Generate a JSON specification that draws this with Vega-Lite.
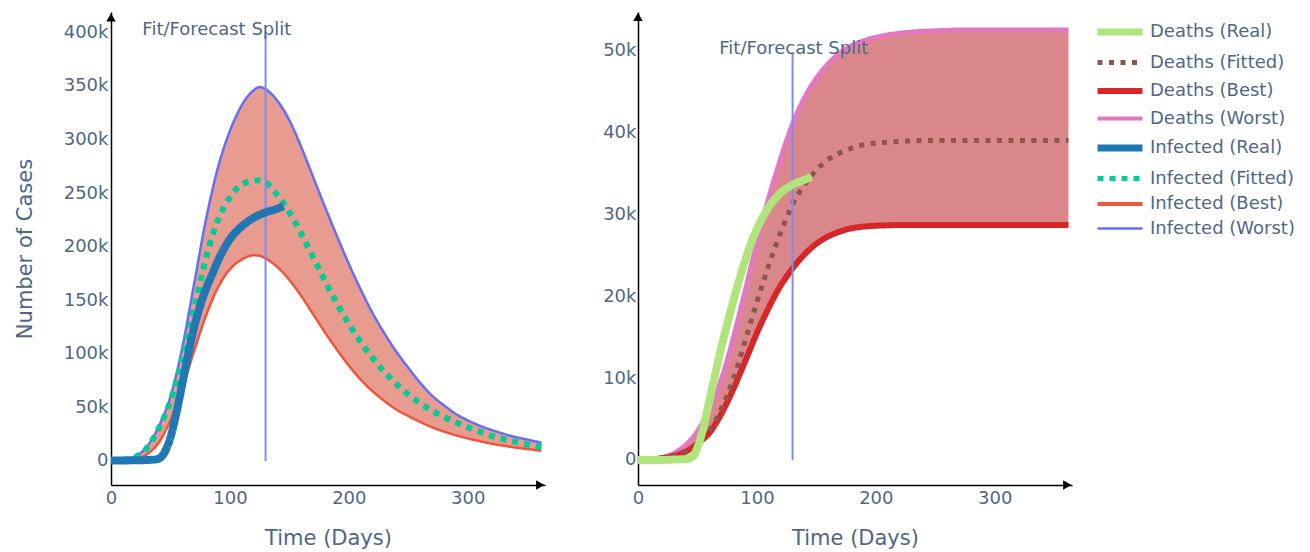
{
  "$schema": "https://vega.github.io/schema/vega-lite/v6.json",
  "background": "white",
  "padding": {"left": 14, "top": 12, "right": 5, "bottom": 5},
  "spacing": 93,
  "bounds": "flush",
  "config": {
    "font": "DejaVu Sans",
    "view": {"stroke": null},
    "axis": {"grid": false, "ticks": false, "domainColor": "#000000", "domainWidth": 1.5, "labelColor": "#506784", "labelFontSize": 18, "titleColor": "#506784", "titleFontSize": 21, "titleFontWeight": "normal", "labelFlush": false},
    "legend": {"symbolType": "M-2,0H2", "symbolSize": 506, "labelFontSize": 18, "labelColor": "#506784", "labelOffset": 21, "rowPadding": 6.5, "orient": "none", "legendX": 1000, "legendY": 11, "labelLimit": 300}
  },
  "datasets": {
    "inf": [
      {"day":0,"series":"Infected (Worst)","value":300},{"day":10,"series":"Infected (Worst)","value":1000},{"day":20,"series":"Infected (Worst)","value":4000},{"day":30,"series":"Infected (Worst)","value":13000},{"day":40,"series":"Infected (Worst)","value":32000},{"day":50,"series":"Infected (Worst)","value":60000},{"day":60,"series":"Infected (Worst)","value":106000},{"day":70,"series":"Infected (Worst)","value":166000},{"day":80,"series":"Infected (Worst)","value":226000},{"day":90,"series":"Infected (Worst)","value":274000},{"day":100,"series":"Infected (Worst)","value":308000},{"day":110,"series":"Infected (Worst)","value":332000},{"day":120,"series":"Infected (Worst)","value":346000},{"day":125,"series":"Infected (Worst)","value":349000},{"day":130,"series":"Infected (Worst)","value":347000},{"day":140,"series":"Infected (Worst)","value":336000},{"day":150,"series":"Infected (Worst)","value":318000},{"day":160,"series":"Infected (Worst)","value":293000},{"day":170,"series":"Infected (Worst)","value":265000},{"day":180,"series":"Infected (Worst)","value":237000},{"day":190,"series":"Infected (Worst)","value":210000},{"day":200,"series":"Infected (Worst)","value":184000},{"day":210,"series":"Infected (Worst)","value":160000},{"day":220,"series":"Infected (Worst)","value":138000},{"day":230,"series":"Infected (Worst)","value":119000},{"day":240,"series":"Infected (Worst)","value":102000},{"day":250,"series":"Infected (Worst)","value":87000},{"day":260,"series":"Infected (Worst)","value":73000},{"day":270,"series":"Infected (Worst)","value":61000},{"day":280,"series":"Infected (Worst)","value":52000},{"day":290,"series":"Infected (Worst)","value":44000},{"day":300,"series":"Infected (Worst)","value":38000},{"day":310,"series":"Infected (Worst)","value":33000},{"day":320,"series":"Infected (Worst)","value":29000},{"day":330,"series":"Infected (Worst)","value":25500},{"day":340,"series":"Infected (Worst)","value":22500},{"day":350,"series":"Infected (Worst)","value":20000},{"day":362,"series":"Infected (Worst)","value":17000},
      {"day":0,"series":"Infected (Best)","value":200},{"day":10,"series":"Infected (Best)","value":600},{"day":20,"series":"Infected (Best)","value":2000},{"day":30,"series":"Infected (Best)","value":6000},{"day":40,"series":"Infected (Best)","value":17000},{"day":50,"series":"Infected (Best)","value":38000},{"day":60,"series":"Infected (Best)","value":68000},{"day":70,"series":"Infected (Best)","value":103000},{"day":80,"series":"Infected (Best)","value":136000},{"day":90,"series":"Infected (Best)","value":162000},{"day":100,"series":"Infected (Best)","value":179000},{"day":110,"series":"Infected (Best)","value":188000},{"day":120,"series":"Infected (Best)","value":192000},{"day":125,"series":"Infected (Best)","value":191500},{"day":130,"series":"Infected (Best)","value":189000},{"day":140,"series":"Infected (Best)","value":181000},{"day":150,"series":"Infected (Best)","value":169000},{"day":160,"series":"Infected (Best)","value":154000},{"day":170,"series":"Infected (Best)","value":137000},{"day":180,"series":"Infected (Best)","value":120000},{"day":190,"series":"Infected (Best)","value":104000},{"day":200,"series":"Infected (Best)","value":89000},{"day":210,"series":"Infected (Best)","value":76000},{"day":220,"series":"Infected (Best)","value":65000},{"day":230,"series":"Infected (Best)","value":56000},{"day":240,"series":"Infected (Best)","value":48000},{"day":250,"series":"Infected (Best)","value":42000},{"day":260,"series":"Infected (Best)","value":36500},{"day":270,"series":"Infected (Best)","value":31500},{"day":280,"series":"Infected (Best)","value":27500},{"day":290,"series":"Infected (Best)","value":24000},{"day":300,"series":"Infected (Best)","value":21000},{"day":310,"series":"Infected (Best)","value":18500},{"day":320,"series":"Infected (Best)","value":16200},{"day":330,"series":"Infected (Best)","value":14300},{"day":340,"series":"Infected (Best)","value":12600},{"day":350,"series":"Infected (Best)","value":11200},{"day":362,"series":"Infected (Best)","value":9600},
      {"day":0,"series":"Infected (Fitted)","value":300},{"day":10,"series":"Infected (Fitted)","value":1000},{"day":20,"series":"Infected (Fitted)","value":3500},{"day":30,"series":"Infected (Fitted)","value":12000},{"day":40,"series":"Infected (Fitted)","value":30000},{"day":50,"series":"Infected (Fitted)","value":56000},{"day":60,"series":"Infected (Fitted)","value":95000},{"day":70,"series":"Infected (Fitted)","value":142000},{"day":80,"series":"Infected (Fitted)","value":190000},{"day":90,"series":"Infected (Fitted)","value":225000},{"day":100,"series":"Infected (Fitted)","value":246000},{"day":110,"series":"Infected (Fitted)","value":258000},{"day":120,"series":"Infected (Fitted)","value":261500},{"day":125,"series":"Infected (Fitted)","value":262000},{"day":130,"series":"Infected (Fitted)","value":260000},{"day":140,"series":"Infected (Fitted)","value":248000},{"day":150,"series":"Infected (Fitted)","value":232000},{"day":160,"series":"Infected (Fitted)","value":212000},{"day":170,"series":"Infected (Fitted)","value":190000},{"day":180,"series":"Infected (Fitted)","value":168000},{"day":190,"series":"Infected (Fitted)","value":147000},{"day":200,"series":"Infected (Fitted)","value":128000},{"day":210,"series":"Infected (Fitted)","value":111000},{"day":220,"series":"Infected (Fitted)","value":96000},{"day":230,"series":"Infected (Fitted)","value":83000},{"day":240,"series":"Infected (Fitted)","value":72000},{"day":250,"series":"Infected (Fitted)","value":62000},{"day":260,"series":"Infected (Fitted)","value":54000},{"day":270,"series":"Infected (Fitted)","value":47000},{"day":280,"series":"Infected (Fitted)","value":41000},{"day":290,"series":"Infected (Fitted)","value":36000},{"day":300,"series":"Infected (Fitted)","value":31500},{"day":310,"series":"Infected (Fitted)","value":27500},{"day":320,"series":"Infected (Fitted)","value":23500},{"day":330,"series":"Infected (Fitted)","value":20500},{"day":340,"series":"Infected (Fitted)","value":17800},{"day":350,"series":"Infected (Fitted)","value":15500},{"day":362,"series":"Infected (Fitted)","value":13000},
      {"day":0,"series":"Infected (Real)","value":500},{"day":10,"series":"Infected (Real)","value":500},{"day":20,"series":"Infected (Real)","value":700},{"day":30,"series":"Infected (Real)","value":900},{"day":38,"series":"Infected (Real)","value":1500},{"day":42,"series":"Infected (Real)","value":3500},{"day":45,"series":"Infected (Real)","value":8000},{"day":50,"series":"Infected (Real)","value":22000},{"day":55,"series":"Infected (Real)","value":45000},{"day":60,"series":"Infected (Real)","value":72000},{"day":65,"series":"Infected (Real)","value":100000},{"day":70,"series":"Infected (Real)","value":125000},{"day":75,"series":"Infected (Real)","value":145000},{"day":80,"series":"Infected (Real)","value":161000},{"day":85,"series":"Infected (Real)","value":174000},{"day":90,"series":"Infected (Real)","value":187000},{"day":95,"series":"Infected (Real)","value":198000},{"day":100,"series":"Infected (Real)","value":207000},{"day":110,"series":"Infected (Real)","value":219000},{"day":120,"series":"Infected (Real)","value":227000},{"day":130,"series":"Infected (Real)","value":232000},{"day":140,"series":"Infected (Real)","value":235500},{"day":145,"series":"Infected (Real)","value":238000}
    ],
    "dth": [
      {"day":0,"series":"Deaths (Worst)","value":0},{"day":10,"series":"Deaths (Worst)","value":100},{"day":20,"series":"Deaths (Worst)","value":300},{"day":30,"series":"Deaths (Worst)","value":800},{"day":40,"series":"Deaths (Worst)","value":1800},{"day":50,"series":"Deaths (Worst)","value":3500},{"day":60,"series":"Deaths (Worst)","value":6200},{"day":70,"series":"Deaths (Worst)","value":9800},{"day":80,"series":"Deaths (Worst)","value":14800},{"day":90,"series":"Deaths (Worst)","value":20600},{"day":100,"series":"Deaths (Worst)","value":26500},{"day":110,"series":"Deaths (Worst)","value":32000},{"day":120,"series":"Deaths (Worst)","value":36800},{"day":125,"series":"Deaths (Worst)","value":39000},{"day":130,"series":"Deaths (Worst)","value":41000},{"day":140,"series":"Deaths (Worst)","value":44200},{"day":150,"series":"Deaths (Worst)","value":46600},{"day":160,"series":"Deaths (Worst)","value":48400},{"day":170,"series":"Deaths (Worst)","value":49700},{"day":180,"series":"Deaths (Worst)","value":50600},{"day":190,"series":"Deaths (Worst)","value":51200},{"day":200,"series":"Deaths (Worst)","value":51600},{"day":210,"series":"Deaths (Worst)","value":51900},{"day":220,"series":"Deaths (Worst)","value":52100},{"day":230,"series":"Deaths (Worst)","value":52250},{"day":240,"series":"Deaths (Worst)","value":52350},{"day":250,"series":"Deaths (Worst)","value":52400},{"day":260,"series":"Deaths (Worst)","value":52450},{"day":270,"series":"Deaths (Worst)","value":52500},{"day":280,"series":"Deaths (Worst)","value":52500},{"day":290,"series":"Deaths (Worst)","value":52500},{"day":300,"series":"Deaths (Worst)","value":52500},{"day":310,"series":"Deaths (Worst)","value":52500},{"day":320,"series":"Deaths (Worst)","value":52500},{"day":330,"series":"Deaths (Worst)","value":52500},{"day":340,"series":"Deaths (Worst)","value":52500},{"day":350,"series":"Deaths (Worst)","value":52500},{"day":362,"series":"Deaths (Worst)","value":52500},
      {"day":0,"series":"Deaths (Best)","value":0},{"day":10,"series":"Deaths (Best)","value":50},{"day":20,"series":"Deaths (Best)","value":200},{"day":30,"series":"Deaths (Best)","value":500},{"day":40,"series":"Deaths (Best)","value":1000},{"day":50,"series":"Deaths (Best)","value":2000},{"day":60,"series":"Deaths (Best)","value":3300},{"day":70,"series":"Deaths (Best)","value":5600},{"day":80,"series":"Deaths (Best)","value":8600},{"day":90,"series":"Deaths (Best)","value":12000},{"day":100,"series":"Deaths (Best)","value":15500},{"day":110,"series":"Deaths (Best)","value":18600},{"day":120,"series":"Deaths (Best)","value":21300},{"day":125,"series":"Deaths (Best)","value":22400},{"day":130,"series":"Deaths (Best)","value":23400},{"day":140,"series":"Deaths (Best)","value":25100},{"day":150,"series":"Deaths (Best)","value":26400},{"day":160,"series":"Deaths (Best)","value":27300},{"day":170,"series":"Deaths (Best)","value":27900},{"day":180,"series":"Deaths (Best)","value":28300},{"day":190,"series":"Deaths (Best)","value":28500},{"day":200,"series":"Deaths (Best)","value":28600},{"day":210,"series":"Deaths (Best)","value":28650},{"day":220,"series":"Deaths (Best)","value":28700},{"day":230,"series":"Deaths (Best)","value":28700},{"day":240,"series":"Deaths (Best)","value":28700},{"day":250,"series":"Deaths (Best)","value":28700},{"day":260,"series":"Deaths (Best)","value":28700},{"day":270,"series":"Deaths (Best)","value":28700},{"day":280,"series":"Deaths (Best)","value":28700},{"day":290,"series":"Deaths (Best)","value":28700},{"day":300,"series":"Deaths (Best)","value":28700},{"day":310,"series":"Deaths (Best)","value":28700},{"day":320,"series":"Deaths (Best)","value":28700},{"day":330,"series":"Deaths (Best)","value":28700},{"day":340,"series":"Deaths (Best)","value":28700},{"day":350,"series":"Deaths (Best)","value":28700},{"day":362,"series":"Deaths (Best)","value":28700},
      {"day":0,"series":"Deaths (Fitted)","value":0},{"day":10,"series":"Deaths (Fitted)","value":50},{"day":20,"series":"Deaths (Fitted)","value":200},{"day":30,"series":"Deaths (Fitted)","value":500},{"day":40,"series":"Deaths (Fitted)","value":1000},{"day":50,"series":"Deaths (Fitted)","value":2100},{"day":60,"series":"Deaths (Fitted)","value":3600},{"day":70,"series":"Deaths (Fitted)","value":6200},{"day":80,"series":"Deaths (Fitted)","value":9800},{"day":90,"series":"Deaths (Fitted)","value":14500},{"day":100,"series":"Deaths (Fitted)","value":19300},{"day":110,"series":"Deaths (Fitted)","value":23800},{"day":120,"series":"Deaths (Fitted)","value":27800},{"day":125,"series":"Deaths (Fitted)","value":29600},{"day":130,"series":"Deaths (Fitted)","value":31200},{"day":140,"series":"Deaths (Fitted)","value":33600},{"day":150,"series":"Deaths (Fitted)","value":35400},{"day":160,"series":"Deaths (Fitted)","value":36700},{"day":170,"series":"Deaths (Fitted)","value":37500},{"day":180,"series":"Deaths (Fitted)","value":38100},{"day":190,"series":"Deaths (Fitted)","value":38500},{"day":200,"series":"Deaths (Fitted)","value":38700},{"day":210,"series":"Deaths (Fitted)","value":38800},{"day":220,"series":"Deaths (Fitted)","value":38900},{"day":230,"series":"Deaths (Fitted)","value":38950},{"day":240,"series":"Deaths (Fitted)","value":39000},{"day":250,"series":"Deaths (Fitted)","value":39000},{"day":260,"series":"Deaths (Fitted)","value":39000},{"day":270,"series":"Deaths (Fitted)","value":39000},{"day":280,"series":"Deaths (Fitted)","value":39000},{"day":290,"series":"Deaths (Fitted)","value":39000},{"day":300,"series":"Deaths (Fitted)","value":39000},{"day":310,"series":"Deaths (Fitted)","value":39000},{"day":320,"series":"Deaths (Fitted)","value":39000},{"day":330,"series":"Deaths (Fitted)","value":39000},{"day":340,"series":"Deaths (Fitted)","value":39000},{"day":350,"series":"Deaths (Fitted)","value":39000},{"day":362,"series":"Deaths (Fitted)","value":39000},
      {"day":0,"series":"Deaths (Real)","value":0},{"day":10,"series":"Deaths (Real)","value":0},{"day":20,"series":"Deaths (Real)","value":0},{"day":30,"series":"Deaths (Real)","value":50},{"day":40,"series":"Deaths (Real)","value":100},{"day":46,"series":"Deaths (Real)","value":400},{"day":50,"series":"Deaths (Real)","value":1500},{"day":55,"series":"Deaths (Real)","value":4000},{"day":60,"series":"Deaths (Real)","value":7200},{"day":65,"series":"Deaths (Real)","value":10500},{"day":70,"series":"Deaths (Real)","value":13700},{"day":75,"series":"Deaths (Real)","value":16600},{"day":80,"series":"Deaths (Real)","value":19300},{"day":85,"series":"Deaths (Real)","value":21900},{"day":90,"series":"Deaths (Real)","value":24300},{"day":95,"series":"Deaths (Real)","value":26400},{"day":100,"series":"Deaths (Real)","value":28200},{"day":110,"series":"Deaths (Real)","value":30900},{"day":120,"series":"Deaths (Real)","value":32600},{"day":130,"series":"Deaths (Real)","value":33600},{"day":140,"series":"Deaths (Real)","value":34200},{"day":146,"series":"Deaths (Real)","value":34600}
    ],
    "one": [{"note": "annotation"}]
  },
  "hconcat": [
    {
      "width": 434,
      "height": 473,
      "layer": [
        {
          "data": {"name": "inf"},
          "transform": [{"filter": {"field": "series", "oneOf": ["Infected (Best)", "Infected (Worst)"]}}, {"pivot": "series", "value": "value", "groupby": ["day"]}],
          "mark": {"type": "area", "interpolate": "monotone", "color": "#e89b8f", "opacity": 1},
          "encoding": {
            "x": {"field": "day", "type": "quantitative", "scale": {"domain": [0, 365], "nice": false, "zero": false}, "axis": {"values": [0, 100, 200, 300], "title": "Time (Days)", "labelPadding": 4, "titlePadding": 20}},
            "y": {"field": "Infected (Worst)", "type": "quantitative", "scale": {"domain": [-22400, 419000], "nice": false, "zero": false}, "axis": {"values": [0, 50000, 100000, 150000, 200000, 250000, 300000, 350000, 400000], "labelExpr": "datum.value == 0 ? '0' : format(datum.value / 1000, 'd') + 'k'", "title": "Number of Cases", "titlePadding": 28, "labelPadding": 3}},
            "y2": {"field": "Infected (Best)"}
          }
        },
        {
          "data": {"name": "inf"},
          "transform": [{"filter": {"field": "series", "equal": "Infected (Worst)"}}],
          "mark": {"type": "line", "interpolate": "monotone", "strokeJoin": "round", "strokeWidth": 2.5},
          "encoding": {
            "x": {"field": "day", "type": "quantitative", "title": "Time (Days)"},
            "y": {"field": "value", "type": "quantitative", "title": "Number of Cases"},
            "color": {"field": "series", "type": "nominal", "scale": {"domain": ["Deaths (Real)", "Deaths (Fitted)", "Deaths (Best)", "Deaths (Worst)", "Infected (Real)", "Infected (Fitted)", "Infected (Best)", "Infected (Worst)"], "range": ["#b0e57c", "#8c564b", "#d62728", "#e377c2", "#1f77b4", "#00cc96", "#ef553b", "#636efa"]}, "legend": {"title": null, "encode": {"symbols": {"update": {"strokeWidth": {"signal": "datum.value == 'Deaths (Real)' ? 7 : datum.value == 'Deaths (Fitted)' ? 5 : datum.value == 'Deaths (Best)' ? 6 : datum.value == 'Deaths (Worst)' ? 4 : datum.value == 'Infected (Real)' ? 7 : datum.value == 'Infected (Fitted)' ? 5 : datum.value == 'Infected (Best)' ? 4 : 2.5"}}}}}},
            "strokeDash": {"field": "series", "type": "nominal", "scale": {"domain": ["Deaths (Real)", "Deaths (Fitted)", "Deaths (Best)", "Deaths (Worst)", "Infected (Real)", "Infected (Fitted)", "Infected (Best)", "Infected (Worst)"], "range": [[1, 0], [5, 6.5], [1, 0], [1, 0], [1, 0], [6, 6], [1, 0], [1, 0]]}, "legend": {"title": null, "encode": {"symbols": {"update": {"strokeWidth": {"signal": "datum.value == 'Deaths (Real)' ? 7 : datum.value == 'Deaths (Fitted)' ? 5 : datum.value == 'Deaths (Best)' ? 6 : datum.value == 'Deaths (Worst)' ? 4 : datum.value == 'Infected (Real)' ? 7 : datum.value == 'Infected (Fitted)' ? 5 : datum.value == 'Infected (Best)' ? 4 : 2.5"}}}}}}
          }
        },
        {
          "data": {"name": "inf"},
          "transform": [{"filter": {"field": "series", "equal": "Infected (Best)"}}],
          "mark": {"type": "line", "interpolate": "monotone", "strokeJoin": "round", "strokeWidth": 2.5},
          "encoding": {
            "x": {"field": "day", "type": "quantitative", "title": "Time (Days)"},
            "y": {"field": "value", "type": "quantitative", "title": "Number of Cases"},
            "color": {"field": "series", "type": "nominal"},
            "strokeDash": {"field": "series", "type": "nominal"}
          }
        },
        {
          "data": {"name": "inf"},
          "transform": [{"filter": {"field": "series", "equal": "Infected (Fitted)"}}],
          "mark": {"type": "line", "interpolate": "monotone", "strokeWidth": 6},
          "encoding": {
            "x": {"field": "day", "type": "quantitative", "title": "Time (Days)"},
            "y": {"field": "value", "type": "quantitative", "title": "Number of Cases"},
            "color": {"field": "series", "type": "nominal"},
            "strokeDash": {"field": "series", "type": "nominal"}
          }
        },
        {
          "data": {"name": "one"},
          "mark": {"type": "rule", "color": "#7b8cf5", "strokeWidth": 2},
          "encoding": {"x": {"datum": 130, "type": "quantitative"}, "y": {"datum": 0, "type": "quantitative"}, "y2": {"datum": 397000}}
        },
        {
          "data": {"name": "inf"},
          "transform": [{"filter": {"field": "series", "equal": "Infected (Real)"}}],
          "mark": {"type": "line", "interpolate": "monotone", "strokeJoin": "round", "strokeWidth": 8},
          "encoding": {
            "x": {"field": "day", "type": "quantitative", "title": "Time (Days)"},
            "y": {"field": "value", "type": "quantitative", "title": "Number of Cases"},
            "color": {"field": "series", "type": "nominal"},
            "strokeDash": {"field": "series", "type": "nominal"}
          }
        },
        {
          "data": {"name": "one"},
          "mark": {"type": "text", "fontSize": 18, "color": "#506784", "align": "center", "baseline": "middle"},
          "encoding": {"x": {"datum": 89, "type": "quantitative"}, "y": {"datum": 402000, "type": "quantitative"}, "text": {"value": "Fit/Forecast Split"}}
        },
        {
          "data": {"name": "one"},
          "mark": {"type": "point", "shape": "triangle-right", "filled": true, "color": "#000000", "opacity": 1, "size": 90},
          "encoding": {"x": {"datum": 361, "type": "quantitative"}, "y": {"datum": -22400, "type": "quantitative"}}
        },
        {
          "data": {"name": "one"},
          "mark": {"type": "point", "shape": "triangle-up", "filled": true, "color": "#000000", "opacity": 1, "size": 90},
          "encoding": {"x": {"datum": 0, "type": "quantitative"}, "y": {"datum": 414000, "type": "quantitative"}}
        }
      ]
    },
    {
      "width": 434,
      "height": 473,
      "layer": [
        {
          "data": {"name": "dth"},
          "transform": [{"filter": {"field": "series", "oneOf": ["Deaths (Best)", "Deaths (Worst)"]}}, {"pivot": "series", "value": "value", "groupby": ["day"]}],
          "mark": {"type": "area", "interpolate": "monotone", "color": "#da878b", "opacity": 1},
          "encoding": {
            "x": {"field": "day", "type": "quantitative", "scale": {"domain": [0, 365], "nice": false, "zero": false}, "axis": {"values": [0, 100, 200, 300], "title": "Time (Days)", "labelPadding": 4, "titlePadding": 20}},
            "y": {"field": "Deaths (Worst)", "type": "quantitative", "scale": {"domain": [-3060, 54700], "nice": false, "zero": false}, "axis": {"values": [0, 10000, 20000, 30000, 40000, 50000], "labelExpr": "datum.value == 0 ? '0' : format(datum.value / 1000, 'd') + 'k'", "title": null, "labelPadding": 2}},
            "y2": {"field": "Deaths (Best)"}
          }
        },
        {
          "data": {"name": "dth"},
          "transform": [{"filter": {"field": "series", "equal": "Deaths (Worst)"}}],
          "mark": {"type": "line", "interpolate": "monotone", "strokeJoin": "round", "strokeWidth": 5},
          "encoding": {
            "x": {"field": "day", "type": "quantitative", "title": "Time (Days)"},
            "y": {"field": "value", "type": "quantitative", "title": null},
            "color": {"field": "series", "type": "nominal"},
            "strokeDash": {"field": "series", "type": "nominal"}
          }
        },
        {
          "data": {"name": "dth"},
          "transform": [{"filter": {"field": "series", "equal": "Deaths (Best)"}}],
          "mark": {"type": "line", "interpolate": "monotone", "strokeJoin": "round", "strokeWidth": 6},
          "encoding": {
            "x": {"field": "day", "type": "quantitative", "title": "Time (Days)"},
            "y": {"field": "value", "type": "quantitative", "title": null},
            "color": {"field": "series", "type": "nominal"},
            "strokeDash": {"field": "series", "type": "nominal"}
          }
        },
        {
          "data": {"name": "dth"},
          "transform": [{"filter": {"field": "series", "equal": "Deaths (Fitted)"}}],
          "mark": {"type": "line", "interpolate": "monotone", "strokeWidth": 5},
          "encoding": {
            "x": {"field": "day", "type": "quantitative", "title": "Time (Days)"},
            "y": {"field": "value", "type": "quantitative", "title": null},
            "color": {"field": "series", "type": "nominal"},
            "strokeDash": {"field": "series", "type": "nominal"}
          }
        },
        {
          "data": {"name": "one"},
          "mark": {"type": "rule", "color": "#7b8cf5", "strokeWidth": 2},
          "encoding": {"x": {"datum": 130, "type": "quantitative"}, "y": {"datum": 0, "type": "quantitative"}, "y2": {"datum": 49600}}
        },
        {
          "data": {"name": "dth"},
          "transform": [{"filter": {"field": "series", "equal": "Deaths (Real)"}}],
          "mark": {"type": "line", "interpolate": "monotone", "strokeJoin": "round", "strokeWidth": 8},
          "encoding": {
            "x": {"field": "day", "type": "quantitative", "title": "Time (Days)"},
            "y": {"field": "value", "type": "quantitative", "title": null},
            "color": {"field": "series", "type": "nominal"},
            "strokeDash": {"field": "series", "type": "nominal"}
          }
        },
        {
          "data": {"name": "one"},
          "mark": {"type": "text", "fontSize": 18, "color": "#506784", "align": "center", "baseline": "middle"},
          "encoding": {"x": {"datum": 131, "type": "quantitative"}, "y": {"datum": 50200, "type": "quantitative"}, "text": {"value": "Fit/Forecast Split"}}
        },
        {
          "data": {"name": "one"},
          "mark": {"type": "point", "shape": "triangle-right", "filled": true, "color": "#000000", "opacity": 1, "size": 90},
          "encoding": {"x": {"datum": 361, "type": "quantitative"}, "y": {"datum": -3060, "type": "quantitative"}}
        },
        {
          "data": {"name": "one"},
          "mark": {"type": "point", "shape": "triangle-up", "filled": true, "color": "#000000", "opacity": 1, "size": 90},
          "encoding": {"x": {"datum": 0, "type": "quantitative"}, "y": {"datum": 54100, "type": "quantitative"}}
        }
      ]
    }
  ]
}
